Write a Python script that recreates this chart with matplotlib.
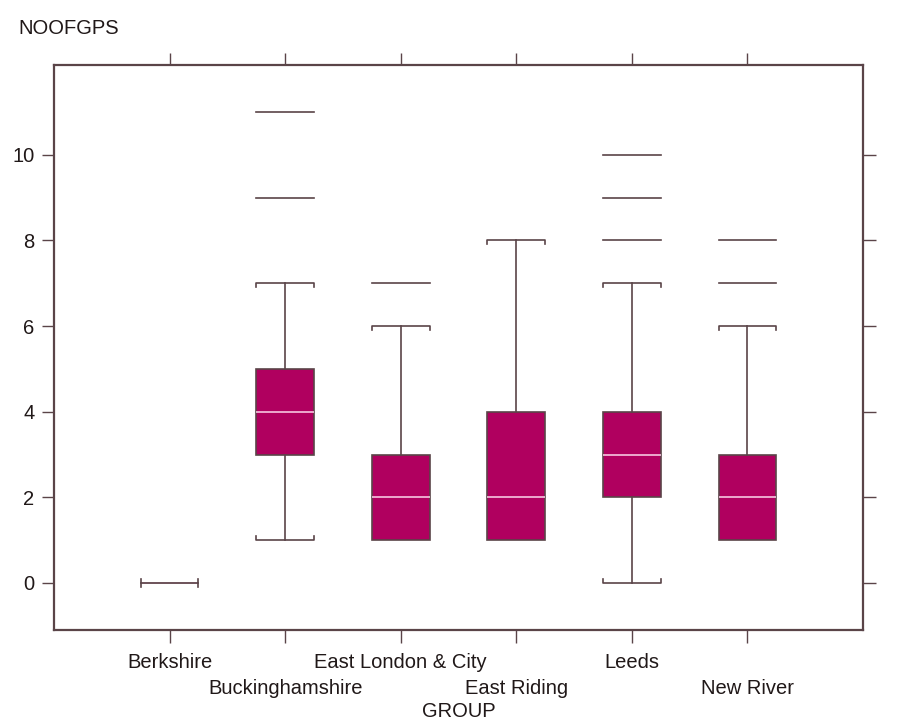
import matplotlib.pyplot as plt

plt.rcParams['font.family'] = ['Liberation Sans', 'DejaVu Sans']

# data
groups = ['Berkshire', 'Buckinghamshire', 'East London & City',
          'East Riding', 'Leeds', 'New River']
whisker_lo = [0, 1, 1, 1, 0, 1]
q1 = [0, 3, 1, 1, 2, 1]
median = [0, 4, 2, 2, 3, 2]
q3 = [0, 5, 3, 4, 4, 3]
whisker_hi = [0, 7, 6, 8, 7, 6]
outliers = [[], [9, 11], [7], [], [8, 9, 10], [7, 8]]
y_ticks = [0, 2, 4, 6, 8, 10]

BOX = '#b0005f'
LINE = '#5a4448'
MED = '#f6c6e0'
TXT = '#201818'
W = 0.5
FS = 14.5

fig = plt.figure(figsize=(9.02, 7.26), dpi=100)
ax = fig.add_axes([54 / 902, 1 - 630 / 726, (863 - 54) / 902, (630 - 65) / 726])

stats = []
for i, g in enumerate(groups):
    stats.append(dict(label=g, whislo=whisker_lo[i], q1=q1[i], med=median[i],
                      q3=q3[i], whishi=whisker_hi[i], fliers=[]))

pos = list(range(len(groups)))
ax.bxp(stats, positions=pos, widths=W, patch_artist=True, showcaps=False,
       boxprops=dict(facecolor=BOX, edgecolor=LINE, linewidth=1.2),
       whiskerprops=dict(color=LINE, linewidth=1.2),
       medianprops=dict(color=MED, linewidth=1.2))

# caps with small end ticks, outliers as dashes
tick = 0.09
for i in pos:
    x0, x1 = i - W / 2, i + W / 2
    lo, hi = whisker_lo[i], whisker_hi[i]
    if lo == hi:
        ax.plot([x0, x1], [lo, lo], color=LINE, lw=1.2, zorder=5)
        ax.plot([x0, x0], [lo - tick, lo + tick], color=LINE, lw=1.2, zorder=5)
        ax.plot([x1, x1], [lo - tick, lo + tick], color=LINE, lw=1.2, zorder=5)
        continue
    if lo < q1[i]:
        ax.plot([x0, x0, x1, x1], [lo + tick, lo, lo, lo + tick], color=LINE, lw=1.2)
    if hi > q3[i]:
        ax.plot([x0, x0, x1, x1], [hi - tick, hi, hi, hi - tick], color=LINE, lw=1.2)
    for o in outliers[i]:
        ax.plot([x0, x1], [o, o], color=LINE, lw=1.2)

ax.set_xlim(-1, 6)
ax.set_ylim(-1.1, 12.1)
ax.set_yticks(y_ticks)
ax.set_yticklabels([str(v) for v in y_ticks], fontsize=FS, color=TXT)
ax.set_xticks(pos)
ax.set_xticklabels([])
ax.tick_params(axis='both', direction='out', length=9, width=1, color=LINE,
               top=True, right=True, pad=5)
for s in ax.spines.values():
    s.set_color(LINE)
    s.set_linewidth(1.6)

for i, g in enumerate(groups):
    yy = -0.057 if i % 2 == 0 else -0.103
    ax.text(i, yy, g, transform=ax.get_xaxis_transform(), ha='center',
            va='center', fontsize=FS, color=TXT)
ax.text(0.5, -0.144, 'GROUP', transform=ax.transAxes, ha='center', va='center',
        fontsize=FS, color=TXT)
fig.text(18 / 902, 1 - 28 / 726, 'NOOFGPS', ha='left', va='center',
         fontsize=FS, color=TXT)

fig.savefig('out.png', dpi=100, facecolor='white')
